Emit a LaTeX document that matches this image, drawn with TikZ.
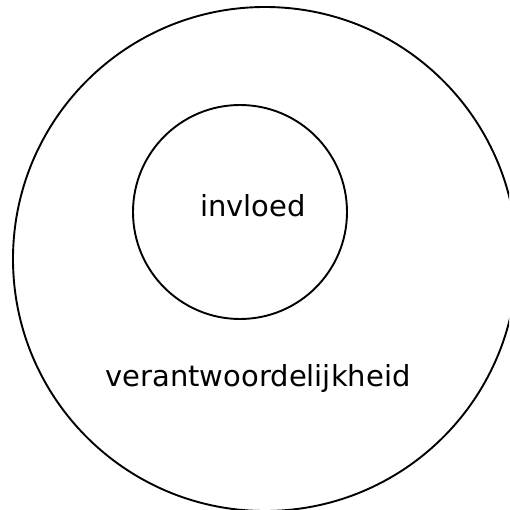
\documentclass[tikz,border=0pt]{standalone}
\usepackage{fontspec}
\setmainfont{DejaVu Sans}
\definecolor{ringBlack}{HTML}{000000}

\begin{document}
\begin{tikzpicture}[x=1pt, y=-1pt]

    % --- 1. Canvas ---
    \useasboundingbox (0, 0) rectangle (509, 510);
    \clip (0, 0) rectangle (509, 510);

    % Common styles
    \tikzstyle{ring}=[circle, draw=ringBlack, line width=1.9pt, inner sep=0pt, outer sep=0pt]
    \tikzstyle{label}=[anchor=base, inner sep=0pt, font=\fontsize{29}{35}\selectfont]

    % --- 2. The Circles ---
    % Outer circle (runs past the right and bottom edges)
    \node[ring, minimum size=504pt] (verantwoordelijkheid) at (265, 259) {};

    % Inner circle
    \node[ring, minimum size=214pt] (invloed) at (240, 212) {};

    % --- 3. Labels ---
    \node[label] (invloedText) at (253, 217) {invloed};
    \node[label] (verantwoordelijkheidText) at (258, 386) {verantwoordelijkheid};

\end{tikzpicture}
\end{document}
